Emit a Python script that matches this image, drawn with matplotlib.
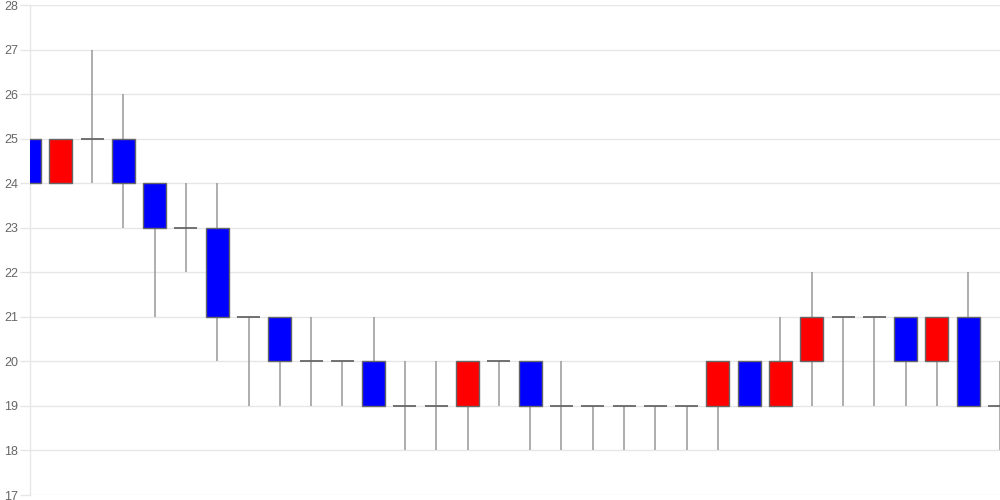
import matplotlib
matplotlib.use("Agg")
import matplotlib.pyplot as plt
import numpy as np

opens  = [25, 24, 25, 25, 24, 23, 23, 21, 21, 20, 20, 20, 19, 19, 19, 20, 20, 19, 19, 19, 19, 19, 19, 20, 19, 20, 21, 21, 21, 20, 21, 19]
highs  = [25, 25, 27, 26, 24, 24, 24, 21, 21, 21, 20, 21, 20, 20, 20, 20, 20, 20, 19, 19, 19, 19, 20, 20, 21, 22, 21, 21, 21, 21, 22, 20]
lows   = [23, 24, 24, 23, 21, 22, 20, 19, 19, 19, 19, 19, 18, 18, 18, 19, 18, 18, 18, 18, 18, 18, 18, 19, 19, 19, 19, 19, 19, 19, 19, 18]
closes = [24, 25, 25, 24, 23, 23, 21, 21, 20, 20, 20, 19, 19, 19, 20, 20, 19, 19, 19, 19, 19, 19, 20, 19, 20, 21, 21, 21, 20, 21, 19, 19]
y_ticks = [17, 18, 19, 20, 21, 22, 23, 24, 25, 26, 27, 28]

fig = plt.figure(figsize=(10, 5), dpi=100)
ax = fig.add_axes([29.5/1000, 5/500, 970/1000, 490/500])

x = np.arange(len(opens))
w = 0.735
wick_c = "#999999"
edge_c = "#666666"

ax.vlines(x, lows, highs, color=wick_c, linewidth=1.1, zorder=2)
for i in range(len(opens)):
    o, c = opens[i], closes[i]
    if o == c:
        ax.hlines(o, i - w/2, i + w/2, color=edge_c, linewidth=1.3, zorder=3)
    else:
        col = "#0000ff" if o > c else "#ff0000"
        ax.bar(i, abs(c - o), bottom=min(o, c), width=w, color=col,
               edgecolor=edge_c, linewidth=1.0, zorder=3)

ax.set_xlim(0, len(opens) - 1)
ax.set_ylim(17, 28)
ax.set_yticks(y_ticks)
ax.set_xticks([])
ax.grid(axis="y", color="#e6e6e6", linewidth=1.0, zorder=0)
for s in ["top", "right", "bottom"]:
    ax.spines[s].set_visible(False)
ax.spines["left"].set_color("#e6e6e6")
ax.spines["left"].set_linewidth(1.0)
ax.tick_params(axis="y", length=7.2, width=1.0, color="#e6e6e6",
               labelcolor="#666666", labelsize=9, pad=1)
for lab in ax.get_yticklabels():
    lab.set_fontfamily("Liberation Sans")

fig.savefig("out.png", dpi=100)
